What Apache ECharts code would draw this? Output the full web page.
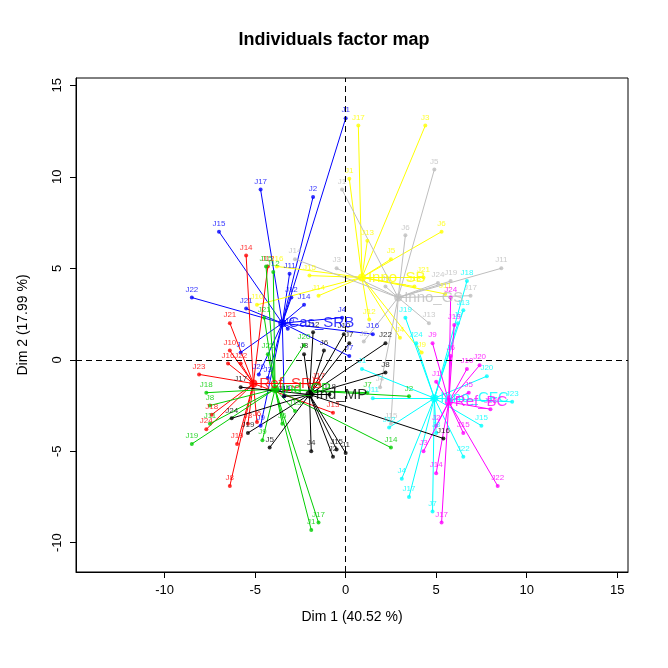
<!DOCTYPE html>
<html><head><meta charset="utf-8">
<script src="https://cdn.jsdelivr.net/npm/echarts@6/dist/echarts.min.js"></script>
<style>html,body{margin:0;padding:0;background:#fff}#c{width:668px;height:668px}</style>
</head><body><div id="c"></div>
<script>
const groupNames = ['Cas_SRB','Inno_SB','Inno_GS','Inno_CFC','Ref_BC','Ref_SRB','Ind_CP','Ind_MP'];
const groupColors = ['#0000FF','#FFFF00','#BEBEBE','#00FFFF','#FF00FF','#FF0000','#00CD00','#000000'];
const centers = [[-3.5,2.0],[0.9,4.5],[2.9,3.4],[4.9,-2.1],[5.7,-2.3],[-5.1,-1.3],[-3.9,-1.6],[-2.0,-1.9]];
const blue = [['J1',0,13.2],['J17',-4.7,9.3],['J2',-1.8,8.9],['J15',-7,7],['J22',-8.5,3.4],['J21',-5.5,2.8],['J12',-3.0,3.4],['J14',-2.3,3.0],['J11',-3.1,4.7],['J16',1.5,1.4],['J4',-0.2,2.3],['J7',0.2,0.2],['J20',-4.8,-0.8],['J3',-4.3,-1.0],['J13',-3.4,-2.0],['J9',-4.7,-3.6],['J6',-5.8,0.4],['J19',-3.2,1.7]];
const yellow = [['J17',0.7,12.8],['J3',4.4,12.8],['J6',5.3,7.0],['J1',0.2,9.9],['J15',-2.0,4.6],['J14',-1.5,3.5],['J12',1.3,2.2],['J4',3.0,1.2],['J21',4.3,4.5],['J11',5.5,3.6],['J13',1.2,6.5],['J9',4.2,0.4],['J16',-3.8,5.1],['J10',-4.9,3.0],['J18',3.8,4.0],['J5',2.5,5.5]];
const gray = [['J5',4.9,10.4],['J6',3.3,6.8],['J11',8.6,5.0],['J24',5.1,4.2],['J1',-0.2,9.3],['J14',-2.8,5.5],['J17',6.9,3.5],['J13',4.6,2.0],['J15',2.5,-3.5],['J4',1.9,-1.5],['J19',5.8,4.3],['J3',-0.5,5.0],['J2',1.0,1.0],['J9',2.2,4.0]];
const cyan = [['J18',6.7,4.3],['J9',6.2,2.0],['J24',3.9,0.9],['J13',6.5,2.7],['J23',9.2,-2.3],['J20',7.8,-0.9],['J15',7.5,-3.6],['J22',6.5,-5.3],['J7',4.8,-8.3],['J17',3.5,-7.5],['J4',3.1,-6.5],['J12',2.4,-3.7],['J11',1.5,-2.1],['J1',0.9,-0.5],['J8',5.0,-4.0],['J19',3.3,2.3]];
const magenta = [['J24',5.8,3.4],['J19',6.0,1.9],['J6',5.8,0.2],['J9',4.8,0.9],['J20',7.4,-0.3],['J23',8.0,-2.7],['J22',8.4,-6.9],['J14',5.0,-6.2],['J17',5.3,-8.9],['J3',4.3,-5.0],['J15',6.5,-4.0],['J1',5.0,-1.2],['J10',6.7,-0.5],['J5',6.8,-1.8],['J2',5.0,-3.6]];
const red = [['J14',-5.5,5.7],['J12',-4.3,5.1],['J21',-6.4,2.0],['J23',-8.1,-0.8],['J18',-7.4,-3.0],['J24',-7.7,-3.8],['J8',-6.4,-6.9],['J3',-5.4,-3.5],['J13',-0.7,-2.9],['J17',-1.5,-1.3],['J22',-5.8,-0.2],['J16',-6.5,-0.2],['J10',-6.4,0.5],['J19',-6.0,-4.6],['J6',-4.9,-3.4]];
const green = [['J17',-1.5,-8.9],['J1',-1.9,-9.3],['J19',-8.5,-4.6],['J18',-7.7,-1.8],['J15',-4.4,5.1],['J12',-4.0,4.8],['J21',-4.5,2.3],['J7',1.2,-1.8],['J2',3.5,-2.0],['J14',2.5,-4.8],['J20',-2.3,0.8],['J22',-4.3,0.3],['J6',-3.5,-3.5],['J9',-4.6,-4.4],['J11',-7.5,-3.5],['J8',-7.5,-2.5],['J13',-2.8,-2.8]];
const black = [['J1',0.0,-5.1],['J4',-1.9,-5.0],['J2',-0.7,-5.3],['J15',-0.5,-4.9],['J5',-4.2,-4.8],['J19',-5.4,-4.0],['J24',-6.3,-3.2],['J8',2.2,-0.7],['J10',-0.1,1.4],['J12',-1.8,1.5],['J3',-2.3,0.3],['J22',2.2,0.9],['J16',5.4,-4.3],['J7',0.2,0.9],['J6',-1.2,0.5],['J11',-3.4,-2.0],['J18',-0.9,-1.9],['J17',-5.8,-1.5]];
const groups = [blue,yellow,gray,cyan,magenta,red,green,black];
const xTicks = [-10,-5,0,5,10,15];
const yTicks = [-10,-5,0,5,10,15];
const F = 'Liberation Sans';

const series = [];
groups.forEach((g,i)=>{
  const c = groupColors[i];
  series.push({type:'lines',coordinateSystem:'cartesian2d',silent:true,z:2,
    lineStyle:{color:c,width:1,opacity:1},
    data:g.map(p=>({coords:[centers[i],[p[1],p[2]]]}))});
  series.push({type:'scatter',symbolSize:4,z:3,itemStyle:{color:c},
    label:{show:true,position:'top',distance:2,formatter:p=>p.data[2],fontSize:8,color:c,fontFamily:F},
    data:g.map(p=>[p[1],p[2],p[0]])});
  series.push({type:'scatter',symbolSize:8,z:4,itemStyle:{color:c},
    label:{show:true,position:'right',distance:2,formatter:groupNames[i],fontSize:15,color:c,fontFamily:F},
    data:[centers[i]]});
});
series.push({type:'line',data:[],markLine:{silent:true,symbol:'none',label:{show:false},
  lineStyle:{color:'#000',type:[6,4],width:1},data:[{xAxis:0},{yAxis:0}]}});

const axisCommon = {axisLine:{show:true,onZero:false,lineStyle:{color:'#000'}},splitLine:{show:false},
  axisTick:{show:true,length:6,lineStyle:{color:'#000'}},
  axisLabel:{color:'#000',fontSize:13,fontFamily:F}};
const chart = echarts.init(document.getElementById('c'));
chart.setOption({
  animation:false,
  title:{text:'Individuals factor map',left:'center',top:26,textStyle:{fontSize:18,fontWeight:'bold',color:'#000',fontFamily:F}},
  grid:{left:76,right:40,top:78,bottom:96,show:true,borderColor:'#000',borderWidth:1},
  xAxis:Object.assign({},axisCommon,{type:'value',min:-14.9,max:15.6,
    name:'Dim 1 (40.52 %)',nameLocation:'middle',nameGap:38,nameTextStyle:{fontSize:14,color:'#000',fontFamily:F},
    axisTick:Object.assign({},axisCommon.axisTick,{customValues:xTicks}),
    axisLabel:Object.assign({},axisCommon.axisLabel,{customValues:xTicks,margin:12})}),
  yAxis:Object.assign({},axisCommon,{type:'value',min:-11.6,max:15.4,
    name:'Dim 2 (17.99 %)',nameLocation:'middle',nameGap:46,nameTextStyle:{fontSize:14,color:'#000',fontFamily:F},
    axisTick:Object.assign({},axisCommon.axisTick,{customValues:yTicks}),
    axisLabel:Object.assign({},axisCommon.axisLabel,{customValues:yTicks,rotate:90,margin:12})}),
  series:series
});
</script></body></html>
